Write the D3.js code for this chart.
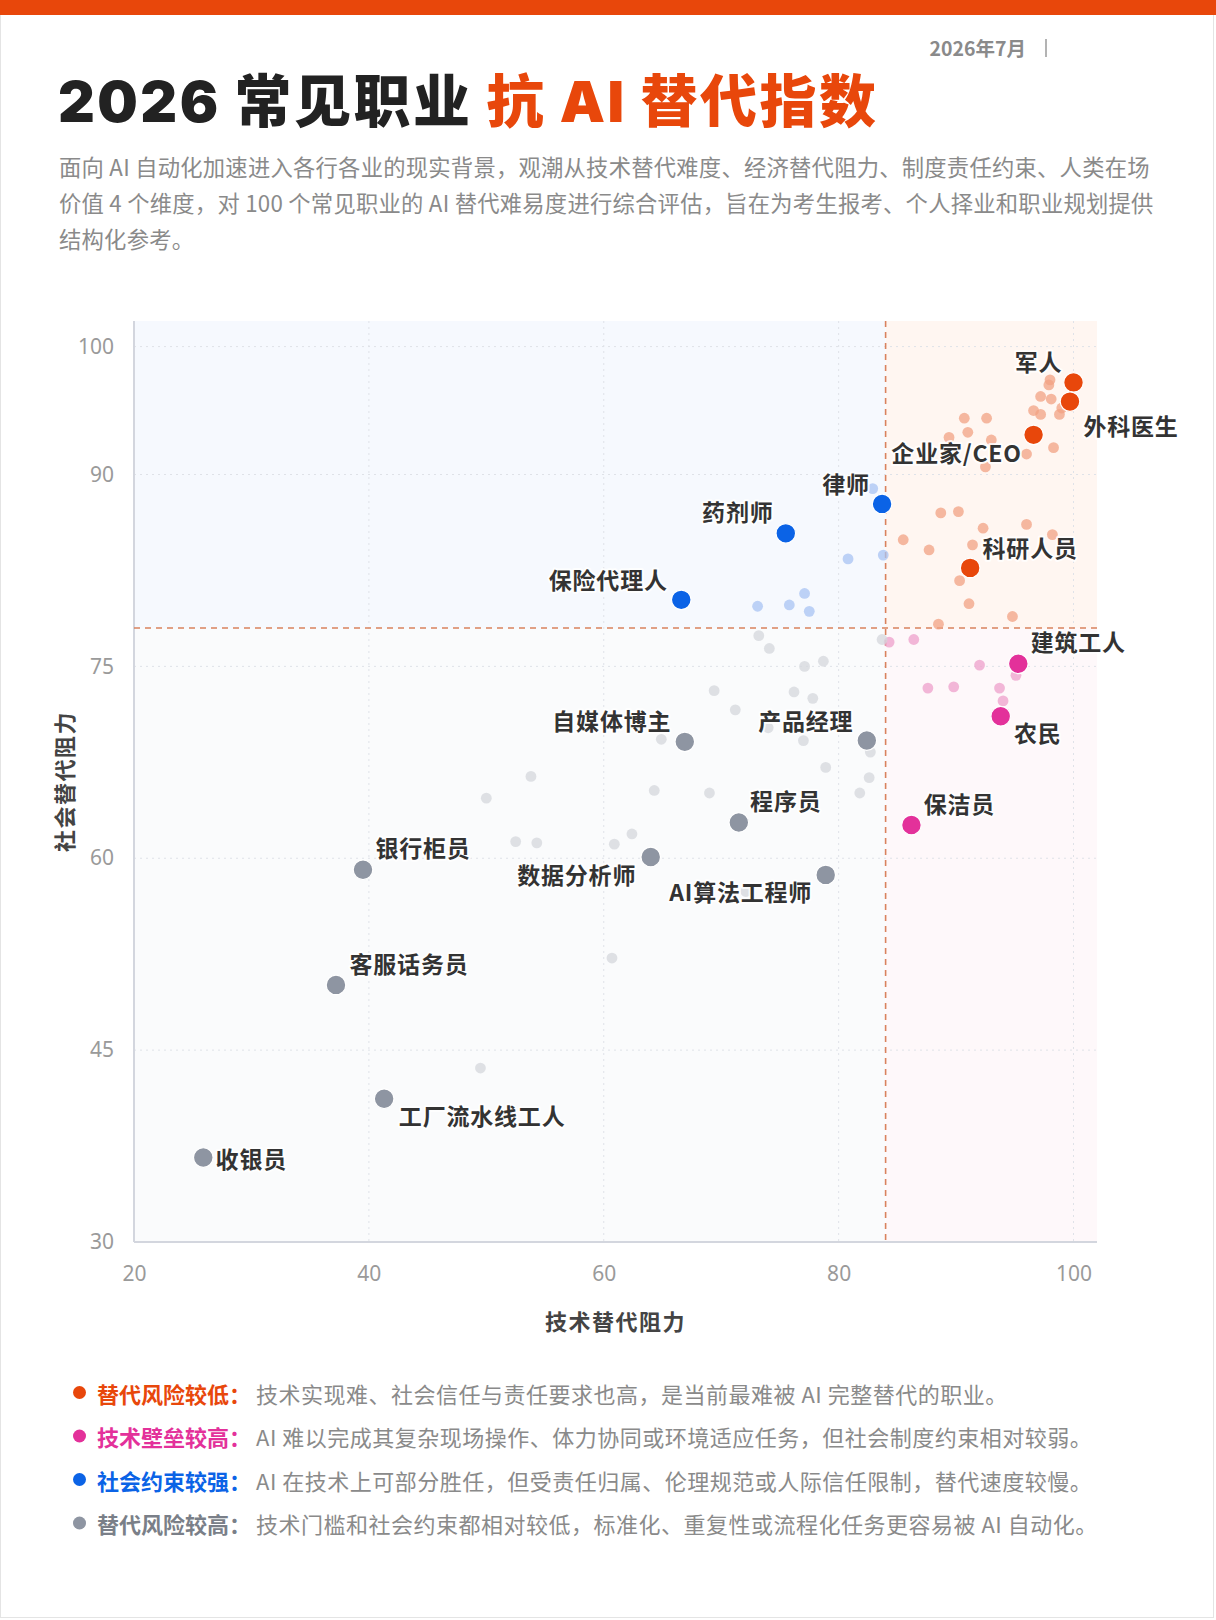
<!DOCTYPE html>
<html>
<head>
<meta charset="utf-8">
<script src="https://cdn.jsdelivr.net/npm/d3@7/dist/d3.min.js"></script>
<style>
  html, body { margin: 0; padding: 0; background: #fff; }
  svg { display: block; }
  text { font-family: "Noto Sans CJK SC", "Noto Sans", sans-serif; }
</style>
</head>
<body>
<svg id="chart" width="1216" height="1620"></svg>
<script>
// ---------------- DATA ----------------
const categories = ["替代风险较低", "技术壁垒较高", "社会约束较强", "替代风险较高"];
const categoryNotes = [
  "技术实现难、社会信任与责任要求也高，是当前最难被 AI 完整替代的职业。",
  "AI 难以完成其复杂现场操作、体力协同或环境适应任务，但社会制度约束相对较弱。",
  "AI 在技术上可部分胜任，但受责任归属、伦理规范或人际信任限制，替代速度较慢。",
  "技术门槛和社会约束都相对较低，标准化、重复性或流程化任务更容易被 AI 自动化。"
];

// labelled occupations
const jobNames  = ["军人","外科医生","企业家/CEO","律师","科研人员","药剂师","保险代理人","建筑工人","农民","保洁员","自媒体博主","产品经理","程序员","数据分析师","AI算法工程师","银行柜员","客服话务员","工厂流水线工人","收银员"];
const jobTech   = [100.0, 99.7, 96.6, 83.7, 91.2, 75.5, 66.6, 95.3, 93.8, 86.2, 66.9, 82.4, 71.5, 64.0, 78.9, 39.5, 37.2, 41.3, 25.9];
const jobSocial = [97.2, 95.7, 93.1, 87.7, 82.7, 85.4, 80.2, 75.2, 71.1, 62.6, 69.1, 69.2, 62.8, 60.1, 58.7, 59.1, 50.1, 41.2, 36.6];

// other (unlabelled) occupations
const otherTech   = [98.0, 97.9, 97.2, 98.1, 96.6, 97.2, 98.8, 99.0, 90.7, 92.6, 91.0, 89.4, 93.0, 96.0, 98.3, 92.5, 88.7, 90.2, 92.3, 96.0, 98.2, 85.5, 87.7, 91.4, 90.3, 91.1, 94.8, 88.5,
                     82.9, 80.8, 83.8, 77.1, 73.1, 75.8, 77.5,
                     84.3, 86.4, 92.0, 95.1, 87.6, 89.8, 93.7, 94.0,
                     73.2, 74.1, 77.1, 78.7, 83.7, 69.4, 76.2, 77.8, 71.2, 74.0, 77.0, 64.9, 82.7, 78.9, 82.6, 81.8, 53.8, 64.3, 69.0, 50.0, 62.4, 60.9, 52.5, 54.3, 72.1, 60.7, 49.5];
const otherSocial = [97.4, 97.0, 96.1, 95.9, 95.0, 94.7, 94.7, 95.2, 94.4, 94.4, 93.3, 92.9, 92.7, 91.6, 92.1, 90.6, 87.0, 87.1, 85.8, 86.1, 85.3, 84.9, 84.1, 84.5, 81.7, 79.9, 78.9, 78.3,
                     88.9, 83.4, 83.7, 80.7, 79.7, 79.8, 79.3,
                     76.9, 77.1, 75.1, 74.3, 73.3, 73.4, 73.3, 72.3,
                     77.4, 76.4, 75.0, 75.4, 77.1, 73.1, 73.0, 72.5, 71.6, 70.2, 69.2, 69.3, 68.3, 67.1, 66.3, 65.1, 66.4, 65.3, 65.1, 64.7, 61.9, 61.1, 61.3, 61.2, 57.4, 52.2, 43.6];

const xTicks = [20, 40, 60, 80, 100];
const yTicks = [30, 45, 60, 75, 90, 100];
const techThreshold = 84;
const socialThreshold = 78;

// ---------------- STYLE / LAYOUT ----------------
const mainColors  = ["#E8470B", "#E3319A", "#0B63E6", "#8E95A2"];
const lightColors = ["#F2A183", "#EEA0CB", "#A8C3F3", "#D4D7DC"];
const headColors  = ["#E8470B", "#E3319A", "#0B63E6", "#7A7F88"];
const quadFill    = ["#FFF6F1", "#FEF8FA", "#F6F9FE", "#FAFBFC"];

// label offsets (label centre relative to the point, in px)
const labelOffset = {
  "军人": [-35, -21], "外科医生": [61, 23], "企业家/CEO": [-77, 17], "律师": [-36, -21],
  "科研人员": [60, -21], "药剂师": [-48, -22], "保险代理人": [-73, -21], "建筑工人": [60, -23],
  "农民": [37, 16], "保洁员": [48, -22], "自媒体博主": [-73, -22], "产品经理": [-61, -21],
  "程序员": [47, -22], "数据分析师": [-74, 17], "AI算法工程师": [-85, 16], "银行柜员": [60, -23],
  "客服话务员": [73, -22], "工厂流水线工人": [98, 16], "收银员": [48, 0]
};

function groupOf(t, s) {
  if (t >= techThreshold && s >= socialThreshold) return 0;
  if (t >= techThreshold) return 1;
  if (s >= socialThreshold) return 2;
  return 3;
}

const svg = d3.select("#chart");

// card border + top bar
svg.append("rect").attr("x", 0.5).attr("y", 0.5).attr("width", 1213).attr("height", 1617)
  .attr("fill", "#fff").attr("stroke", "#e4e4e4").attr("stroke-width", 1);
svg.append("rect").attr("x", 0).attr("y", 0).attr("width", 1216).attr("height", 15).attr("fill", "#E8470B");

// date
svg.append("text").attr("x", 1026).attr("y", 55.5).attr("text-anchor", "end")
  .attr("font-size", 19.5).attr("font-weight", 700).attr("fill", "#8a8a8a").text("2026年7月");
svg.append("line").attr("x1", 1046).attr("x2", 1046).attr("y1", 39).attr("y2", 57)
  .attr("stroke", "#9a9a9a").attr("stroke-width", 1.5);

// title
const title = svg.append("text").attr("x", 58).attr("y", 122)
  .attr("font-size", 57).attr("font-weight", 900).attr("letter-spacing", 2.5)
  .style("font-family", "Inter, 'Noto Sans CJK SC', sans-serif");
title.append("tspan").attr("fill", "#222").text("2026 常见职业 ");
title.append("tspan").attr("fill", "#E8470B").text("抗 AI 替代指数");

// subtitle
const subLines = [
  "面向 AI 自动化加速进入各行各业的现实背景，观潮从技术替代难度、经济替代阻力、制度责任约束、人类在场",
  "价值 4 个维度，对 100 个常见职业的 AI 替代难易度进行综合评估，旨在为考生报考、个人择业和职业规划提供",
  "结构化参考。"
];
svg.append("g").selectAll("text").data(subLines).join("text")
  .attr("x", 59).attr("y", (d, i) => 176 + i * 36.2)
  .attr("font-size", 22.3).attr("fill", "#8a8a8a").attr("letter-spacing", 0.25).text(d => d);

// scales
const x = d3.scaleLinear().domain([20, 102]).range([134, 1097]);
const y = d3.scaleLinear().domain([30, 102]).range([1242, 321]);

// quadrant backgrounds
const quads = [
  { g: 0, x0: techThreshold, x1: 102, y0: socialThreshold, y1: 102 },
  { g: 1, x0: techThreshold, x1: 102, y0: 30, y1: socialThreshold },
  { g: 2, x0: 20, x1: techThreshold, y0: socialThreshold, y1: 102 },
  { g: 3, x0: 20, x1: techThreshold, y0: 30, y1: socialThreshold }
];
svg.append("g").selectAll("rect").data(quads).join("rect")
  .attr("x", d => x(d.x0)).attr("y", d => y(d.y1))
  .attr("width", d => x(d.x1) - x(d.x0)).attr("height", d => y(d.y0) - y(d.y1))
  .attr("fill", d => quadFill[d.g]);

// grid
const grid = svg.append("g");
grid.selectAll(".vg").data(xTicks.filter(t => t > 20)).join("line")
  .attr("x1", d => x(d)).attr("x2", d => x(d)).attr("y1", y(102)).attr("y2", y(30))
  .attr("stroke", "#dfe2e8").attr("stroke-width", 1).attr("stroke-dasharray", "2,4");
grid.selectAll(".hg").data(yTicks.filter(t => t > 30)).join("line")
  .attr("x1", x(20)).attr("x2", x(102)).attr("y1", d => y(d)).attr("y2", d => y(d))
  .attr("stroke", "#dfe2e8").attr("stroke-width", 1).attr("stroke-dasharray", "2,4");

// axes
const xAxis = svg.append("g").attr("transform", `translate(0,${y(30)})`)
  .call(d3.axisBottom(x).tickValues(xTicks).tickSize(0).tickPadding(24));
const yAxis = svg.append("g").attr("transform", `translate(${x(20)},0)`)
  .call(d3.axisLeft(y).tickValues(yTicks).tickSize(0).tickPadding(20));
[xAxis, yAxis].forEach(a => {
  a.select(".domain").remove();
  a.selectAll("text").attr("font-size", 21).attr("fill", "#9a9a9a")
    .style("font-family", "'Noto Sans', sans-serif");
});
svg.append("line").attr("x1", x(20)).attr("x2", x(102)).attr("y1", y(30)).attr("y2", y(30))
  .attr("stroke", "#d3d6de").attr("stroke-width", 2);
svg.append("line").attr("x1", x(20)).attr("x2", x(20)).attr("y1", y(102)).attr("y2", y(30))
  .attr("stroke", "#d3d6de").attr("stroke-width", 2);

// axis titles
svg.append("text").attr("x", (x(20) + x(102)) / 2).attr("y", 1330).attr("text-anchor", "middle")
  .attr("font-size", 22).attr("font-weight", 700).attr("fill", "#444").attr("letter-spacing", 1.5)
  .text("技术替代阻力");
svg.append("text").attr("transform", `translate(73,${(y(30) + y(102)) / 2}) rotate(-90)`)
  .attr("text-anchor", "middle").attr("font-size", 22).attr("font-weight", 700)
  .attr("fill", "#444").attr("letter-spacing", 1.5).text("社会替代阻力");

// threshold lines
svg.append("line").attr("x1", x(techThreshold)).attr("x2", x(techThreshold))
  .attr("y1", y(102)).attr("y2", y(30))
  .attr("stroke", "#D9825E").attr("stroke-width", 1.6).attr("stroke-dasharray", "6,5");
svg.append("line").attr("x1", x(20)).attr("x2", x(102))
  .attr("y1", y(socialThreshold)).attr("y2", y(socialThreshold))
  .attr("stroke", "#D9825E").attr("stroke-width", 1.6).attr("stroke-dasharray", "6,5");

// other occupations
const others = otherTech.map((t, i) => ({ t, s: otherSocial[i], g: groupOf(t, otherSocial[i]) }));
svg.append("g").selectAll("circle").data(others).join("circle")
  .attr("cx", d => x(d.t)).attr("cy", d => y(d.s)).attr("r", 5.4)
  .attr("fill", d => lightColors[d.g]).attr("fill-opacity", 0.75);

// labelled occupations
const jobs = jobNames.map((n, i) => ({ n, t: jobTech[i], s: jobSocial[i], g: groupOf(jobTech[i], jobSocial[i]) }));
svg.append("g").selectAll("circle").data(jobs).join("circle")
  .attr("cx", d => x(d.t)).attr("cy", d => y(d.s)).attr("r", 9.8)
  .attr("fill", d => mainColors[d.g]).attr("stroke", "#fff").attr("stroke-width", 1.2);

svg.append("g").selectAll("text").data(jobs).join("text")
  .attr("x", d => x(d.t) + labelOffset[d.n][0]).attr("y", d => y(d.s) + labelOffset[d.n][1])
  .attr("text-anchor", "middle").attr("dominant-baseline", "central")
  .attr("font-size", 23).attr("font-weight", 700).attr("fill", "#333")
  .attr("letter-spacing", 0.8)
  .attr("stroke", "rgba(255,255,255,0.85)").attr("stroke-width", 4).attr("paint-order", "stroke")
  .attr("stroke-linejoin", "round")
  .text(d => d.n);

// legend
const legend = svg.append("g").selectAll("g").data(categories).join("g")
  .attr("transform", (d, i) => `translate(0,${1392.5 + i * 43.5})`);
legend.append("circle").attr("cx", 79.5).attr("cy", 0).attr("r", 6.5).attr("fill", (d, i) => mainColors[i]);
legend.append("text").attr("x", 97).attr("y", 0).attr("dominant-baseline", "central")
  .attr("font-size", 22).attr("font-weight", 700).attr("fill", (d, i) => headColors[i])
  .text(d => d + "：");
legend.append("text").attr("x", 256).attr("y", 0).attr("dominant-baseline", "central")
  .attr("font-size", 22).attr("fill", "#8a8a8a").attr("letter-spacing", 0.5)
  .text((d, i) => categoryNotes[i]);
</script>
</body>
</html>
